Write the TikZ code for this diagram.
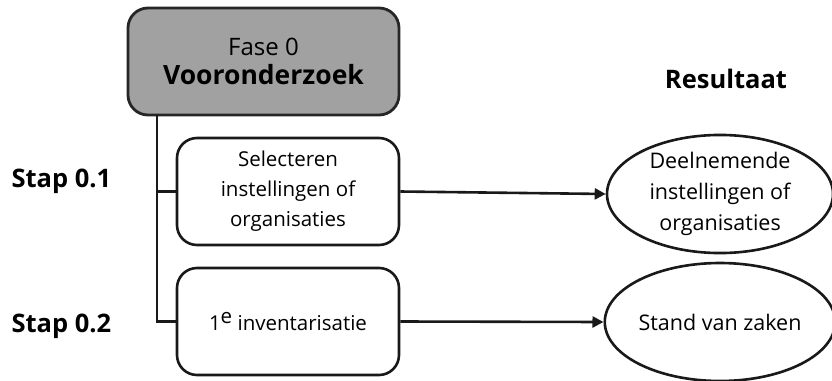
\documentclass[tikz,border=0pt]{standalone}
\usepackage{fontspec}
\setmainfont{Open Sans}
\usetikzlibrary{shapes.geometric,arrows.meta}
\begin{document}
\begin{tikzpicture}[x=1pt,y=-1pt,
  phase/.style={draw=black!85,line width=2.8pt,fill=black!37,rounded corners=20pt,
    minimum width=271pt,minimum height=107pt,align=center,font=\fontsize{24}{29}\selectfont},
  stepbox/.style={draw=black!90,line width=2.6pt,fill=white,rounded corners=20pt,
    minimum width=222pt,minimum height=107pt,align=center,font=\fontsize{20.5}{30}\selectfont},
  result/.style={draw=black!90,line width=2.6pt,ellipse,inner sep=0pt,
    minimum width=226pt,minimum height=118pt,align=center,font=\fontsize{21.5}{31}\selectfont},
  heading/.style={font=\fontsize{25.5}{30}\selectfont\bfseries,anchor=base},
  link/.style={draw=black!90,line width=2.6pt},
  feed/.style={link,-{Triangle[length=11pt,width=11pt]}}]
\useasboundingbox (0,0) rectangle (832,380);
\clip (0,0) rectangle (832,380);

% phase header
\node[phase] (fase) at (263.5,61.5) {Fase 0\\{\fontsize{26.5}{29}\selectfont\bfseries Vooronderzoek}};

% steps
\node[stepbox] (s1) at (288,191.5) {Selecteren\\instellingen of\\organisaties};
\node[stepbox] (s2) at (288,321.5) {1\raisebox{0.55ex}{e} inventarisatie};

% results
\node[result] (r1) at (720,194) {Deelnemende\\instellingen of\\organisaties};
\node[result] (r2) at (720,322) {Stand van zaken};

% labels
\node[heading] (res) at (726,88) {Resultaat};
\node[heading,anchor=base west] (st1) at (8,187) {Stap 0.1};
\node[heading,anchor=base west] (st2) at (8,332) {Stap 0.2};

% tree connectors
\coordinate (trunk) at (157,115);
\draw[link] (trunk) |- (s2.west);
\draw[link] (trunk |- s1.west) -- (s1.west);

% arrows to results
\draw[feed] (s1.east) -- (r1.west);
\draw[feed] (s2.east) -- (r2.west);
\end{tikzpicture}
\end{document}
